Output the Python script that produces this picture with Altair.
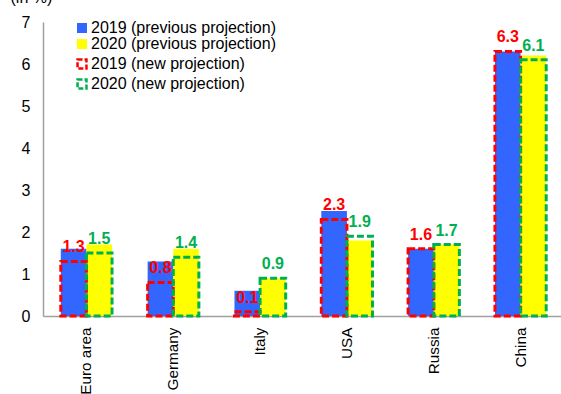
import altair as alt
import pandas as pd

# Growth projections (in %)
regions = ["Euro area", "Germany", "Italy", "USA", "Russia", "China"]
prev_2019 = [1.6, 1.3, 0.6, 2.5, 1.6, 6.3]
prev_2020 = [1.7, 1.6, 0.9, 1.8, 1.7, 6.2]
new_2019 = [1.3, 0.8, 0.1, 2.3, 1.6, 6.3]
new_2020 = [1.5, 1.4, 0.9, 1.9, 1.7, 6.1]
years = ["2019", "2020"]
prev_labels = ["2019 (previous projection)", "2020 (previous projection)"]
new_labels = ["2019 (new projection)", "2020 (new projection)"]

rows = []
for i, region in enumerate(regions):
    pairs = zip(years, (prev_2019[i], prev_2020[i]), (new_2019[i], new_2020[i]),
                prev_labels, new_labels)
    for yr, p, n, pl, nl in pairs:
        rows.append(dict(region=region, year=yr, prev=p, new=n,
                         prev_label=pl, new_label=nl))
df = pd.DataFrame(rows)

FONT = "Liberation Sans"
AXIS_GREY = "#a0a0a0"

x_enc = alt.X(
    "region:N", sort=regions, title=None,
    scale=alt.Scale(paddingInner=0.41, paddingOuter=0.205, rangeMax=521),
    axis=alt.Axis(labelAngle=270, labelFontSize=15.3, labelFont=FONT, labelColor="black",
                  labelPadding=11, ticks=False, domainColor=AXIS_GREY, domainWidth=1.5),
)
xo_enc = alt.XOffset("year:N", sort=years, scale=alt.Scale(paddingInner=0, paddingOuter=0))


def y_enc(field):
    return alt.Y(
        f"{field}:Q",
        scale=alt.Scale(domain=[0, 7], nice=False),
        axis=alt.Axis(values=list(range(8)), ticks=False, grid=False, labelPadding=13,
                      labelFontSize=16, labelFont=FONT, labelColor="black",
                      domainColor=AXIS_GREY, domainWidth=1.5,
                      title="(in %)", titleAngle=0, titleAlign="left",
                      titleBaseline="alphabetic", titleX=-33, titleY=-20,
                      titleFontSize=16, titleFont=FONT, titleFontWeight="normal",
                      titleColor="black"),
    )


base = alt.Chart(df)

bars = base.mark_bar().encode(
    x=x_enc, xOffset=xo_enc, y=y_enc("prev"),
    color=alt.Color(
        "prev_label:N",
        scale=alt.Scale(domain=prev_labels, range=["#3366FF", "#FFFF00"]),
        legend=alt.Legend(title=None, orient="none", legendX=31, legendY=-2,
                          symbolType="square", symbolSize=100, symbolStrokeWidth=0,
                          labelFontSize=16, labelFont=FONT, labelColor="black",
                          labelOffset=1, rowPadding=0, padding=0, labelLimit=400),
    ),
)

boxes = base.mark_bar(fill="transparent", strokeWidth=3, strokeDash=[7, 3]).encode(
    x=x_enc, xOffset=xo_enc, y=y_enc("new"),
    stroke=alt.Stroke(
        "new_label:N",
        scale=alt.Scale(domain=new_labels, range=["#FF0000", "#00B050"]),
        legend=alt.Legend(title=None, orient="none", legendX=31, legendY=34,
                          symbolType="square", symbolSize=80, symbolStrokeWidth=2.5,
                          symbolDash=[5, 2], symbolFillColor="white",
                          labelFontSize=16, labelFont=FONT, labelColor="black",
                          labelOffset=1, rowPadding=0, padding=0, labelLimit=400),
    ),
)


def value_labels(year, colour):
    return base.transform_filter(alt.datum.year == year).mark_text(
        color=colour, fontWeight="bold", fontSize=16, font=FONT,
        baseline="alphabetic", dy=-9,
    ).encode(x=x_enc, xOffset=xo_enc, y=y_enc("new"),
             text=alt.Text("new:Q", format=".1f"))


chart = alt.layer(
    bars, boxes, value_labels("2019", "#FF0000"), value_labels("2020", "#00B050")
).properties(
    width=518, height=294,
    padding={"left": 43, "top": 22, "right": 0, "bottom": 78},
    autosize=alt.AutoSizeParams(type="none"),
).configure_view(stroke=None)

chart.save("out.html", embed_options={"renderer": "svg", "actions": False})
